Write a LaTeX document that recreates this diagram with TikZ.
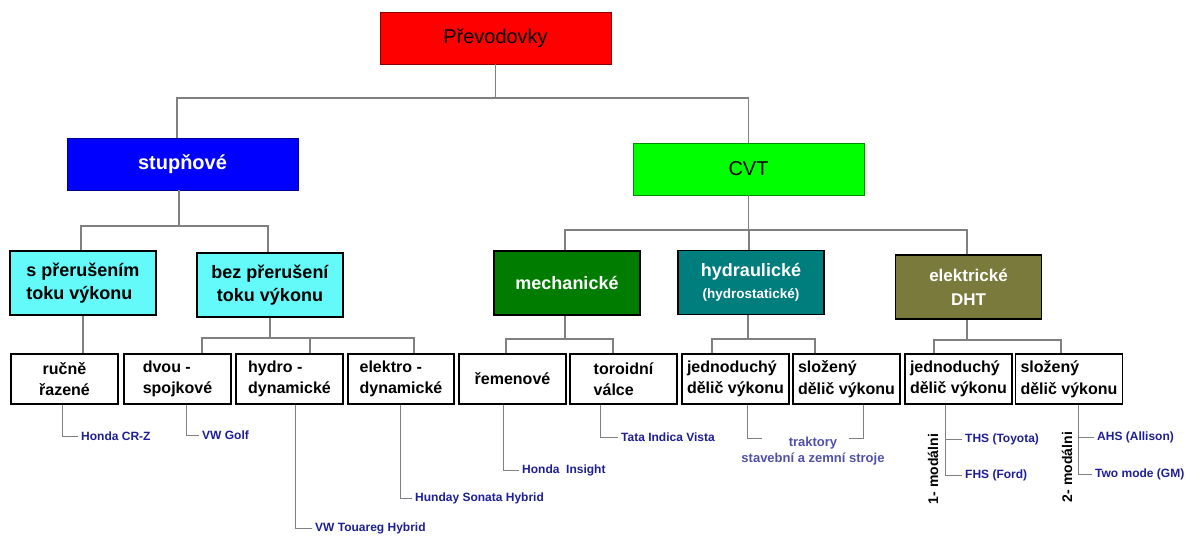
\documentclass[tikz,border=0pt]{standalone}
\usepackage{fontspec}
\setmainfont{Liberation Sans}
\definecolor{lightcyan}{RGB}{100,250,250}
\definecolor{mechgreen}{RGB}{0,125,0}
\definecolor{hydteal}{RGB}{0,125,125}
\definecolor{eleolive}{RGB}{122,122,60}
\definecolor{linegray}{RGB}{128,128,128}
\definecolor{leafblue}{RGB}{30,30,150}
\definecolor{trakblue}{RGB}{80,80,170}
\begin{document}
\begin{tikzpicture}[x=1pt,y=-1pt,
  mainbox/.style={draw=#1!55!black, line width=0.8pt, fill=#1, minimum width=231, minimum height=52, inner sep=0pt, font=\fontsize{20}{24}\selectfont},
  groupbox/.style={draw=black, line width=1.6pt, minimum width=146, minimum height=64, inner sep=0pt, align=left, font=\fontsize{18}{23}\selectfont\bfseries},
  box/.style={draw=black, line width=1.6pt, minimum width=107, minimum height=50, inner sep=0pt, align=left, font=\fontsize{16}{21.5}\selectfont\bfseries},
  conn/.style={draw=linegray, line width=1.2pt},
  leafconn/.style={draw=linegray, line width=0.9pt},
  leaftext/.style={anchor=west, inner sep=3pt, text=leafblue, font=\fontsize{12}{14}\selectfont\bfseries},
  modetext/.style={rotate=90, inner sep=0pt, font=\fontsize{14}{16}\selectfont\bfseries}]
\useasboundingbox (0,0) rectangle (1191,536);

% top levels
\node[mainbox=red] (prev) at (495.5,38) {Převodovky};
\node[mainbox=blue, text=white, font=\fontsize{20}{24}\selectfont\bfseries] (stup) at (182.5,164) {stupňové};
\node[mainbox=green] (cvt) at (748.5,169) {CVT};

\node[groupbox, fill=lightcyan] (sp) at (83,283) {s přerušením\\toku výkonu};
\node[groupbox, fill=lightcyan, align=center] (bp) at (270,285) {bez přerušení\\toku výkonu};
\node[groupbox, fill=mechgreen, text=white] (mech) at (567,283) {mechanické};
\node[groupbox, fill=hydteal, text=white, align=center] (hydr) at (751,282.5) {hydraulické\\[-1pt]{\fontsize{13.5}{16}\selectfont (hydrostatické)}};
\node[groupbox, fill=eleolive, text=white, align=center, font=\fontsize{17}{22}\selectfont\bfseries] (ele) at (968.5,287) {elektrické\\[2pt]DHT};

% bottom row
\node[box, align=center] (ruc) at (64.5,379) {ručně\\řazené};
\node[box] (dvou) at (177.5,379) {dvou -\\spojkové};
\node[box] (hyd) at (289.5,379) {hydro -\\dynamické};
\node[box, minimum width=106] (elk) at (401,379) {elektro -\\dynamické};
\node[box] (rem) at (512.5,379) {řemenové};
\node[box] (tor) at (623.5,379) {toroidní\\válce};
\node[box] (jed) at (735.5,379) {jednoduchý\\dělič výkonu};
\node[box] (slo) at (846.5,379) {složený\\dělič výkonu};
\node[box] (jedd) at (958.5,379) {jednoduchý\\dělič výkonu};
\node[box] (slod) at (1069,379) {složený\\dělič výkonu};

% buses
\coordinate (busa) at (0,98);
\coordinate (busb) at (0,226);
\coordinate (busc) at (0,230);
\coordinate (busd) at (0,338);
\coordinate (buse) at (0,339);
\coordinate (busf) at (0,340);

\draw[conn] (prev) -- (busa -| prev.south);
\draw[conn] ([xshift=-5.5]stup.north) |- (busa -| prev.south);
\draw[conn] (cvt.north) |- (busa -| prev.south);

\draw[conn] ([xshift=-3.5]stup.south) -- ([xshift=-3.5]stup.south |- busb);
\draw[conn] ([xshift=-2]sp.north) |- ([xshift=-3.5]stup.south |- busb);
\draw[conn] ([xshift=-2]bp.north) |- ([xshift=-3.5]stup.south |- busb);

\draw[conn] (cvt.south) -- (busc -| cvt.south);
\draw[conn] ([xshift=-2]mech.north) |- (busc -| cvt.south);
\draw[conn] ([xshift=-2]hydr.north) |- (busc -| cvt.south);
\draw[conn] ([xshift=-1.5]ele.north) |- (busc -| cvt.south);

\draw[conn] (sp.south) -- (ruc.north -| sp.south);
\draw[conn] (bp.south) -- (busd -| bp.south);
\draw[conn] ([xshift=24.5]dvou.north) |- (busd -| bp.south);
\draw[conn] ([xshift=20.5]hyd.north) |- (busd -| bp.south);
\draw[conn] ([xshift=13]elk.north) |- (busd -| bp.south);

\draw[conn] ([xshift=-2]mech.south) -- ([xshift=-2]mech.south |- buse);
\draw[conn] ([xshift=-6.5]rem.north) |- ([xshift=-2]mech.south |- buse);
\draw[conn] ([xshift=-10.5]tor.north) |- ([xshift=-2]mech.south |- buse);

\draw[conn] ([xshift=-3]hydr.south) -- ([xshift=-3]hydr.south |- buse);
\draw[conn] ([xshift=-23.5]jed.north) |- ([xshift=-3]hydr.south |- buse);
\draw[conn] ([xshift=-31.5]slo.north) |- ([xshift=-3]hydr.south |- buse);

\draw[conn] ([xshift=-1.5]ele.south) -- ([xshift=-1.5]ele.south |- busf);
\draw[conn] ([xshift=-24.5]jedd.north) |- ([xshift=-1.5]ele.south |- busf);
\draw[conn] ([xshift=-8]slod.north) |- ([xshift=-1.5]ele.south |- busf);

% examples
\node[leaftext] (crz) at (78,436) {Honda CR-Z};
\node[leaftext] (golf) at (199,435) {VW Golf};
\node[leaftext] (tour) at (312,528) {VW Touareg Hybrid};
\node[leaftext] (sona) at (412,498) {Hunday Sonata Hybrid};
\node[leaftext] (insi) at (519,470) {Honda\ \ Insight};
\node[leaftext] (tata) at (618,437) {Tata Indica Vista};
\node[leaftext, anchor=center, align=center, text=trakblue, font=\fontsize{13}{16}\selectfont\bfseries] (trak) at (813,451) {traktory\\stavební a zemní stroje};
\coordinate (trakl) at (762,438);
\coordinate (trakr) at (849,438);
\node[leaftext] (ths) at (962,439) {THS (Toyota)};
\node[leaftext] (fhs) at (962,475) {FHS (Ford)};
\node[leaftext] (ahs) at (1094,437) {AHS (Allison)};
\node[leaftext] (two) at (1092,474) {Two mode (GM)};
\node[modetext] (moda) at (933,469) {1- modálni};
\node[modetext] (modb) at (1067,467) {2- modálni};

\draw[leafconn] ([xshift=-2.5]ruc.south) |- (crz.west);
\draw[leafconn] ([xshift=8.5]dvou.south) |- (golf.west);
\draw[leafconn] ([xshift=5.5]hyd.south) |- (tour.west);
\draw[leafconn] ([xshift=-1]elk.south) |- (sona.west);
\draw[leafconn] ([xshift=-9.5]rem.south) |- (insi.west);
\draw[leafconn] ([xshift=-23.5]tor.south) |- (tata.west);
\draw[leafconn] ([xshift=11.5]jed.south) |- (trakl);
\draw[leafconn] ([xshift=16.5]slo.south) |- (trakr);
\draw[leafconn] ([xshift=-13.5]jedd.south) |- (fhs.west);
\draw[leafconn] ([xshift=-13.5]jedd.south) |- (ths.west);
\draw[leafconn] ([xshift=9]slod.south) |- (two.west);
\draw[leafconn] ([xshift=9]slod.south) |- (ahs.west);
\end{tikzpicture}
\end{document}
